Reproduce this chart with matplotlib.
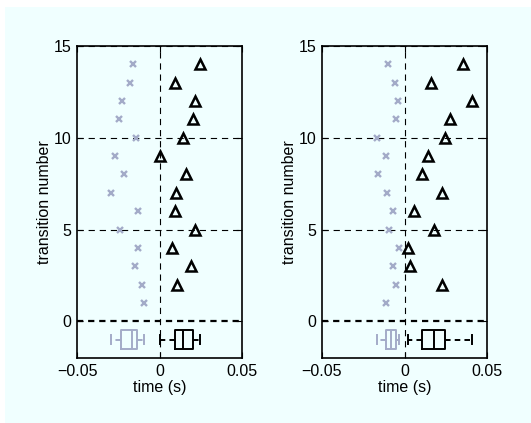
import matplotlib
matplotlib.use("Agg")
import matplotlib.pyplot as plt
from matplotlib.patches import Rectangle
import numpy as np

plt.rcParams['font.family'] = ['Liberation Sans', 'DejaVu Sans']
plt.rcParams['lines.scale_dashes'] = False

# transition numbers
y_cross = [14, 13, 12, 11, 10, 9, 8, 7, 6, 5, 4, 3, 2, 1]
y_tri = [14, 13, 12, 11, 10, 9, 8, 7, 6, 5, 4, 3, 2]

# left panel
left_cross = [-0.0160, -0.0176, -0.0230, -0.0247, -0.0145, -0.0267, -0.0214,
              -0.0295, -0.0133, -0.0238, -0.0129, -0.0147, -0.0107, -0.0091]
left_tri = [0.0247, 0.0091, 0.0214, 0.0206, 0.0144, 0.0006, 0.0160,
            0.0099, 0.0093, 0.0218, 0.0077, 0.0188, 0.0109]

# right panel
right_cross = [-0.0097, -0.0056, -0.0040, -0.0050, -0.0165, -0.0115, -0.0158,
               -0.0107, -0.0071, -0.0091, -0.0034, -0.0071, -0.0053, -0.0113]
right_tri = [0.0356, 0.0158, 0.0412, 0.0275, 0.0248, 0.0145, 0.0109,
             0.0230, 0.0055, 0.0178, 0.0020, 0.0036, 0.0226]

xticks = [-0.05, 0, 0.05]
xticklabels = ['\u22120.05', '0', '0.05']
yticks = [0, 5, 10, 15]

gray = '#a3abc8'
bg = '#f0ffff'
fs = 11.5

fig = plt.figure(figsize=(5.31, 4.23), dpi=100)
fig.patch.set_facecolor('white')
fig.patches.append(Rectangle((5 / 531, -0.02), 1.05, 1.02 - 7 / 423,
                             transform=fig.transFigure, facecolor=bg,
                             edgecolor='none', zorder=-10))

W, H = 531, 423
positions = [(77, 46, 165, 312), (322, 46, 165, 312)]
data = [(left_cross, left_tri), (right_cross, right_tri)]

for (px, py, pw, ph), (cr, tr) in zip(positions, data):
    ax = fig.add_axes([px / W, 1 - (py + ph) / H, pw / W, ph / H])
    ax.set_facecolor(bg)
    ax.set_xlim(-0.05, 0.05)
    ax.set_ylim(-2, 15)
    dash = (0, (4.5, 3.5))
    for yv in [5, 10, 15]:
        ax.axhline(yv, color='black', lw=0.8, linestyle=dash, zorder=1)
    ax.axvline(0, color='black', lw=0.8, linestyle=dash, zorder=1)
    ax.axhline(0, color='black', lw=1.6, linestyle=(0, (4.5, 3.5)), zorder=1)

    ax.plot(cr, y_cross, linestyle='none', marker='x', color=gray,
            markersize=3.8, markeredgewidth=1.7, zorder=3)
    ax.plot(tr, y_tri, linestyle='none', marker='^', markerfacecolor='none',
            markeredgecolor='black', markersize=7, markeredgewidth=1.8, zorder=3)

    for vals, col in [(cr, gray), (tr, 'black')]:
        ax.boxplot(vals, positions=[-1], vert=False, widths=1.0,
                   whis=1.5, showfliers=False, manage_ticks=False,
                   capwidths=0.5,
                   boxprops=dict(color=col, lw=1.4),
                   medianprops=dict(color=col, lw=1.4),
                   whiskerprops=dict(color=col, lw=1.4, linestyle=(0, (4, 3))),
                   capprops=dict(color=col, lw=1.4))

    ax.set_xticks(xticks)
    ax.set_xticklabels(xticklabels, fontsize=fs)
    ax.set_yticks(yticks)
    ax.set_yticklabels([str(v) for v in yticks], fontsize=fs)
    ax.tick_params(direction='in', length=4, width=0.8, top=True, right=True, pad=4)
    for s in ax.spines.values():
        s.set_linewidth(1.2)
    ax.set_xlabel('time (s)', fontsize=fs, labelpad=1)
    ax.set_ylabel('transition number', fontsize=fs, labelpad=1)

fig.savefig('out.png', dpi=100, facecolor=fig.get_facecolor())
